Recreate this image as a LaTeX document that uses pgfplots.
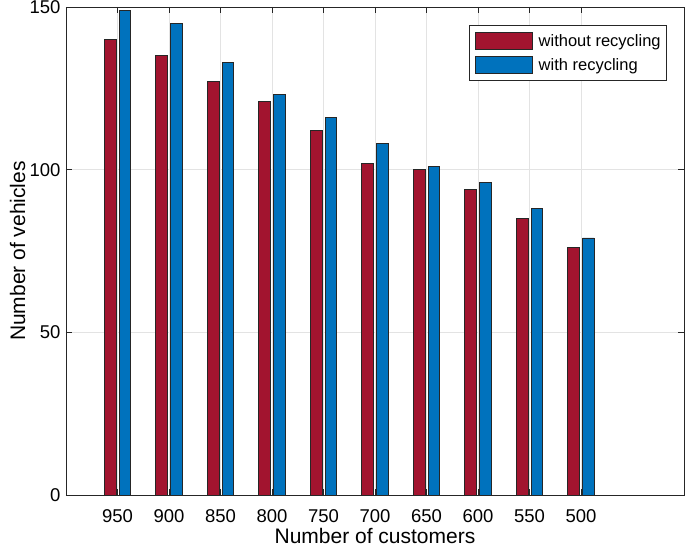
\documentclass[border=0pt]{standalone}
\usepackage{fontspec}
\setmainfont{Liberation Sans}
\usepackage{pgfplots}
\pgfplotsset{compat=1.18}
\definecolor{mred}{rgb}{0.635,0.078,0.184}
\definecolor{mblue}{rgb}{0,0.447,0.741}
\definecolor{axgray}{rgb}{0.15,0.15,0.15}

\begin{document}
\begin{tikzpicture}
  \begin{axis}[
      name=ax,
      scale only axis,
      width=618pt, height=488pt,
      xmin=0, xmax=12,
      ymin=0, ymax=150,
      xtick={1,...,10},
      xticklabels={950,900,850,800,750,700,650,600,550,500},
      ytick={0,50,100,150},
      tick align=inside,
      major tick length=6pt,
      tick style={axgray, line width=0.8pt},
      axis line style={axgray, line width=0.8pt},
      grid=major,
      grid style={gray!22, line width=0.6pt},
      tick label style={font=\fontsize{18.5}{20}\selectfont, text=black},
      xticklabel style={anchor=base, yshift=-27pt},
      yticklabel style={xshift=-2pt},
      /pgf/number format/assume math mode=true,
      xlabel={Number of customers},
      ylabel={Number of vehicles},
      label style={font=\fontsize{21}{23}\selectfont, inner sep=0pt},
      xlabel style={at={(rel axis cs:0.5,-0.1004)}, anchor=base},
      ylabel style={at={(rel axis cs:-0.0663,0.5)}, anchor=base},
      bar width=0.227,
      legend style={at={(rel axis cs:0.972,0.9625)}, anchor=north east,
        draw=axgray, line width=0.7pt,
        font=\fontsize{16.5}{18}\selectfont,
        nodes={inner sep=0pt},
        row sep=6.3pt, column sep=6pt,
        inner xsep=5.7pt, inner ysep=6.6pt},
      legend cell align=left,
      legend image code/.code={
        \draw[#1, draw=axgray, line width=0.7pt] (0pt,-8.5pt) rectangle (57pt,8.5pt);
      },
    ]
    \addplot[ybar, bar shift=-0.143, fill=mred, draw=axgray, line width=0.8pt]
      coordinates {(1,140) (2,135) (3,127) (4,121) (5,112) (6,102) (7,100) (8,94) (9,85) (10,76)};
    \addplot[ybar, bar shift=0.143, fill=mblue, draw=axgray, line width=0.8pt]
      coordinates {(1,149) (2,145) (3,133) (4,123) (5,116) (6,108) (7,101) (8,96) (9,88) (10,79)};
    \legend{without recycling, with recycling}
  \end{axis}
  \pgfresetboundingbox
  \path ([shift={(-66pt,-54pt)}]ax.south west) rectangle ([shift={(1pt,7pt)}]ax.north east);
\end{tikzpicture}
\end{document}
